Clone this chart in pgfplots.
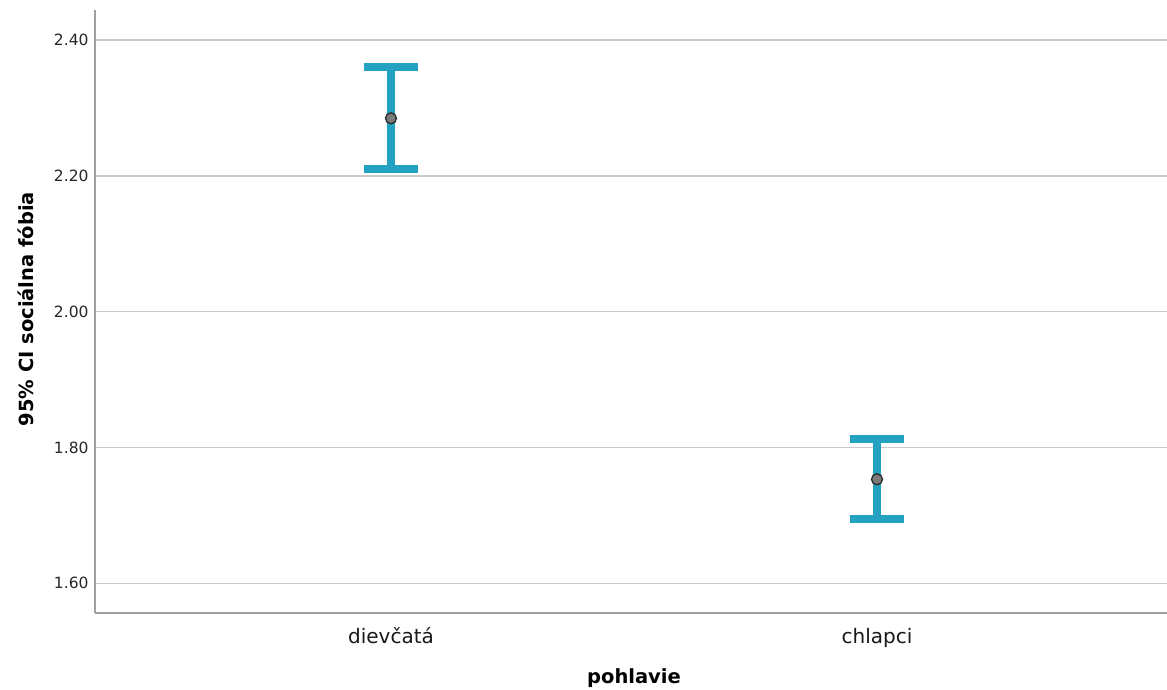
\documentclass[border=0pt]{standalone}
\usepackage{pgfplots}
\pgfplotsset{compat=1.18}
\usepackage{fontspec}
\setmainfont{DejaVu Sans}
\definecolor{cibar}{HTML}{24A2C1}
\definecolor{gridc}{HTML}{CBCBCB}
\definecolor{axc}{HTML}{A0A0A0}
\definecolor{meanfill}{HTML}{7A7A7A}
\definecolor{meanedge}{HTML}{2B2B2B}
\begin{document}
\begin{tikzpicture}
\path[use as bounding box] (0,0) rectangle (1167bp,690bp);
\begin{axis}[
  at={(95bp,77bp)}, anchor=south west,
  scale only axis, width=1072bp, height=603bp,
  xmin=-0.609, xmax=1.5967, ymin=1.5563, ymax=2.4442,
  axis x line*=bottom, axis y line*=left,
  axis line style={draw=axc, line width=2bp, -},
  xtick={0,1}, xticklabels={dievčatá, chlapci},
  ytick={1.6,1.8,2.0,2.2,2.4},
  ymajorgrids, major grid style={draw=gridc, line width=1.5bp},
  major tick length=0pt,
  /pgf/number format/fixed, /pgf/number format/fixed zerofill,
  /pgf/number format/precision=2, /pgf/number format/assume math mode=true,
  yticklabel style={font=\fontsize{15.5bp}{18bp}\selectfont, text=black!85, anchor=east, xshift=-3bp},
  xticklabel style={font=\fontsize{20bp}{24bp}\selectfont, text=black!90, anchor=base, yshift=-30bp},
  xlabel={pohlavie}, ylabel={95\% CI sociálna fóbia},
  xlabel style={font=\bfseries\fontsize{19.5bp}{23bp}\selectfont, at={(axis description cs:0.5028,0)}, anchor=base, yshift=-70bp},
  ylabel style={font=\bfseries\fontsize{19.5bp}{23bp}\selectfont, at={(axis description cs:-0.0578,0.504)}, anchor=base},
]
\addplot[draw=none, mark=none, forget plot,
  error bars/.cd, y dir=both, y explicit,
  error bar style={draw=cibar, line width=7.5bp},
  error mark options={draw=cibar, line width=7.5bp, mark size=27bp, rotate=90}]
  coordinates {
    (0,2.2847) += (0,0.0755) -= (0,0.0746)
    (1,1.7532) += (0,0.0593) -= (0,0.0584)
  };
\addplot[only marks, mark=*, mark size=5.5bp,
  mark options={fill=meanfill, draw=meanedge, line width=1.3bp}]
  coordinates {(0,2.2847) (1,1.7532)};
\end{axis}
\end{tikzpicture}
\end{document}
